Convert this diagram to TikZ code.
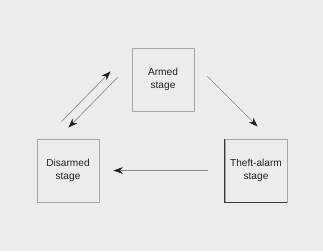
\documentclass[tikz,border=0pt]{standalone}
\usepackage{fontspec}
\setmainfont{Liberation Sans}
\usepackage{xcolor}
\usepackage{tikz}
\usetikzlibrary{arrows.meta,positioning,calc}
\definecolor{sbg}{HTML}{ECECEC}
\definecolor{sink}{HTML}{222222}
\definecolor{sline}{HTML}{8C8C8C}
\definecolor{sedge}{HTML}{A6A6A6}
\definecolor{sdark}{HTML}{3A3A3A}

\tikzset{
  stagebox/.style={draw=sedge,line width=0.6pt,fill=sbg,inner sep=0pt,
    minimum width=46.5pt,minimum height=47.25pt,align=center,text=sink,
    font=\fontsize{7.6}{9.8}\selectfont},
  flow/.style={sline,line width=0.5pt,-{Stealth[length=7pt,width=5pt,sink]}}
}

\begin{document}
\begin{tikzpicture}[x=0.75pt,y=0.75pt]
  \fill[sbg] (0,0) rectangle (323,251);
  \useasboundingbox (0,0) rectangle (323,251);
  \node[stagebox] (armed)    at (163,171.5) {Armed\\stage};
  \node[stagebox] (disarmed) at (68,80.5)   {Disarmed\\stage};
  \node[stagebox] (theft)    at (256,80.5)  {Theft-alarm\\stage};
  % darker edges on the alarm box
  \draw[sdark,line width=0.8pt] (theft.north west) -- (theft.south west) -- (theft.south east);
  \draw[flow] ([shift={(-38,17)}]disarmed.north east) -- ([shift={(-21,40)}]armed.south west);
  \draw[flow] ([shift={(-14,34)}]armed.south west) -- ([shift={(-31,11)}]disarmed.north east);
  \draw[flow] ([shift={(13,35)}]armed.south east) -- ([shift={(33,12)}]theft.north west);
  \draw[flow] ([xshift=-17*0.75pt]theft.west) -- ([xshift=14*0.75pt]disarmed.east);
\end{tikzpicture}
\end{document}
